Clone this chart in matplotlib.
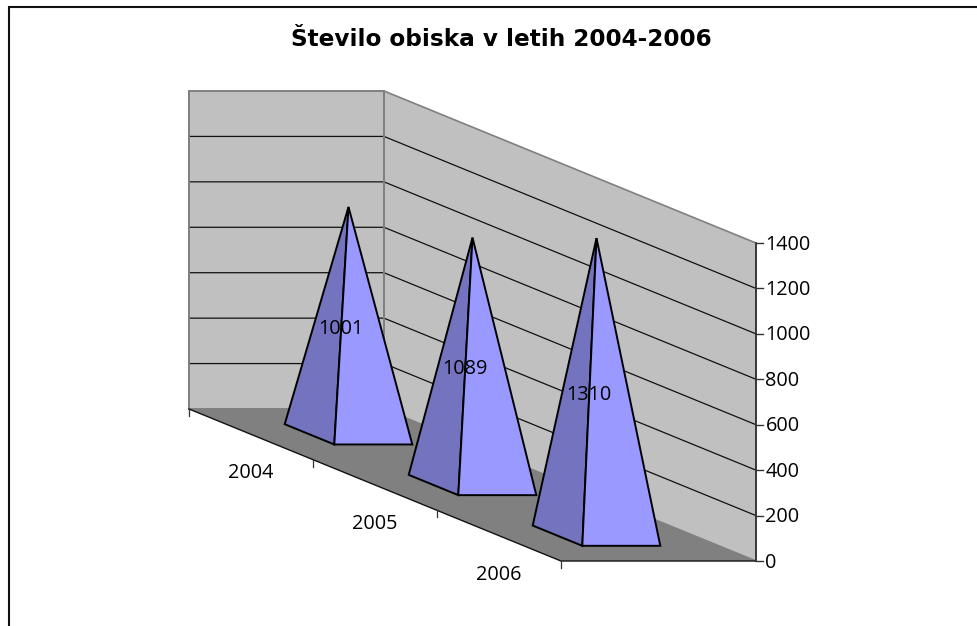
import matplotlib
matplotlib.use("Agg")
import matplotlib.pyplot as plt
from matplotlib.patches import Polygon

# data
categories = ["2004", "2005", "2006"]
visits = [1001, 1089, 1310]
value_ticks = [0, 200, 400, 600, 800, 1000, 1200, 1400]
title = "Število obiska v letih 2004-2006"

# oblique projection of the 3D plot box (pixel geometry)
X0, Y0 = 189.0, 409.0        # back-left floor corner
CAT_DX, CAT_DY = 124.0, 50.67  # one category along the front-left edge
DEPTH_DX = 195.0             # full width of the floor
PX_PER_UNIT = 318.0 / 1400.0
VMAX = value_ticks[-1]
NCAT = len(categories)
BASE_SIZE = 0.4              # pyramid base as share of the category slot


def proj(cat, depth, value=0.0):
    return (X0 + CAT_DX * cat + DEPTH_DX * depth,
            Y0 + CAT_DY * cat - value * PX_PER_UNIT)


plt.rcParams["font.family"] = ["Open Sans", "DejaVu Sans"]
LABEL_SIZE = 14.3

fig = plt.figure(figsize=(9.78, 6.26), dpi=100)
ax = fig.add_axes([0, 0, 1, 1])
ax.set_xlim(0, 978)
ax.set_ylim(626, 0)
ax.axis("off")

WALL = "#C0C0C0"
FLOOR = "#808080"
EDGE = "#808080"
DARK = "#7373BF"
LIGHT = "#9999FF"

# chart frame (only left and top are inside the crop)
ax.plot([9, 9, 978], [626, 7, 7], color="#111111", lw=1.5, zorder=1,
        solid_joinstyle="miter", clip_on=False)

# walls
ax.add_patch(Polygon([proj(0, 0), proj(0, 1), proj(0, 1, VMAX), proj(0, 0, VMAX)],
                     closed=True, fc=WALL, ec=EDGE, lw=1.4, zorder=2))
ax.add_patch(Polygon([proj(0, 1), proj(NCAT, 1), proj(NCAT, 1, VMAX), proj(0, 1, VMAX)],
                     closed=True, fc=WALL, ec=EDGE, lw=1.2, zorder=2))
# floor
ax.add_patch(Polygon([proj(0, 0), proj(0, 1), proj(NCAT, 1), proj(NCAT, 0)],
                     closed=True, fc=FLOOR, ec="none", zorder=3))

# gridlines
for v in value_ticks[1:-1]:
    pts = [proj(0, 0, v), proj(0, 1, v), proj(NCAT, 1, v)]
    ax.plot([p[0] for p in pts], [p[1] for p in pts], color="#111111", lw=0.9, zorder=3)
ax.plot(*zip(proj(0, 1), proj(0, 1, VMAX)), color=EDGE, lw=1.4, zorder=3)
ax.plot(*zip(proj(0, 0), proj(0, 0, VMAX)), color=EDGE, lw=1.4, zorder=3)

# floor front edges
pts = [proj(0, 0), proj(NCAT, 0), proj(NCAT, 1)]
ax.plot([p[0] for p in pts], [p[1] for p in pts], color="#111111", lw=1.0, zorder=4)

# value axis
ax.plot(*zip(proj(NCAT, 1), proj(NCAT, 1, VMAX)), color="#333333", lw=1.3, zorder=4)
for v in value_ticks:
    x, y = proj(NCAT, 1, v)
    ax.plot([x, x + 7], [y, y], color="#333333", lw=1.0, zorder=4)
    ax.text(x + 9.5, y + 1.5, str(v), ha="left", va="center", fontsize=LABEL_SIZE, color="black")

# category ticks and labels
for c in range(NCAT + 1):
    x, y = proj(c, 0)
    ax.plot([x, x], [y, y + 7], color="#333333", lw=0.9, zorder=4)
for i, name in enumerate(categories):
    x, y = proj(i + 0.5, 0)
    ax.text(x - 0.5, y + 39, name, ha="center", va="center", fontsize=LABEL_SIZE, color="black")

# pyramids
half = BASE_SIZE / 2
for i, val in enumerate(visits):
    c = i + 0.5
    d = 0.5
    left = proj(c - half, d - half)
    front = proj(c + half, d - half)
    right = proj(c + half, d + half)
    apex = proj(c, d, val)
    ax.add_patch(Polygon([left, front, apex], closed=True, fc=DARK, ec="black",
                         lw=1.4, joinstyle="miter", zorder=5))
    ax.add_patch(Polygon([front, right, apex], closed=True, fc=LIGHT, ec="black",
                         lw=1.4, joinstyle="miter", zorder=5))
    mx, my = proj(c, d, val / 2)
    ax.text(mx - 7.5, my + 8, str(val), ha="center", va="center", fontsize=LABEL_SIZE,
            color="black", zorder=6)

ax.text(501.5, 40, title, ha="center", va="center", fontsize=16.7, fontweight="bold",
        color="black", family="DejaVu Sans")

fig.savefig("out.png", dpi=100)
